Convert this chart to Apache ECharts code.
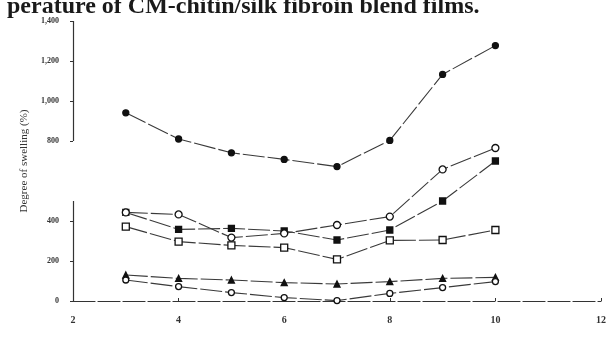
<!DOCTYPE html>
<html>
<head>
<meta charset="utf-8">
<script src="https://cdn.jsdelivr.net/npm/echarts@6/dist/echarts.min.js"></script>
<style>html,body{margin:0;padding:0;background:#fff;}#c{width:612px;height:338px;}</style>
</head>
<body>
<div id="c"></div>
<script>
var xValues = [3, 4, 5, 6, 7, 8, 9, 10];
var filledCircle = [941, 810, 741, 708, 672, 803, 1133, 1277];
var openCircle = [443, 433, 317, 338, 380, 422, 658, 765];
var filledSquare = [443, 358, 363, 350, 305, 355, 500, 700];
var openSquare = [372, 297, 278, 267, 208, 303, 305, 355];
var filledTriangle = [130, 113, 105, 92, 85, 97, 113, 118];
var lowCircle = [105, 72, 42, 17, 2, 38, 67, 97];
var yTicks = [0, 200, 400, 800, 1000, 1200, 1400];
var xTicks = [2, 4, 6, 8, 10, 12];
var yAxisSegments = [[0, 500], [800, 1400]];
var titleText = 'perature of CM-chitin/silk fibroin blend films.';
var yName = 'Degree of swelling (%)';

function pairs(vals) { return xValues.map(function (x, i) { return [x, vals[i]]; }); }

var lineStyle = { color: '#3a3a3a', width: 1.1, type: [22, 3] };
function mk(name, data, symbol, filled, size) {
  return {
    name: name, type: 'line', data: pairs(data), symbol: symbol, symbolSize: size || 6,
    lineStyle: lineStyle,
    itemStyle: { color: filled ? '#111' : '#fff', borderColor: '#111', borderWidth: 1.3 },
    z: filled ? 3 : 4, animation: false
  };
}

var series = [
  mk('fc', filledCircle, 'circle', true, 6),
  mk('oc', openCircle, 'circle', false, 7),
  mk('fs', filledSquare, 'rect', true, 6),
  mk('os', openSquare, 'rect', false, 7),
  mk('ft', filledTriangle, 'triangle', true, 6),
  mk('lc', lowCircle, 'circle', false, 6)
];
series.push({
  type: 'line', data: [], silent: true, animation: false,
  markLine: {
    symbol: 'none', silent: true, animation: false,
    label: { show: false },
    lineStyle: { color: '#333', width: 1.2, type: 'solid' },
    data: yAxisSegments.map(function (s) { return [{ coord: [2, s[0]] }, { coord: [2, s[1]] }]; })
  }
});

var chart = echarts.init(document.getElementById('c'));
chart.setOption({
  backgroundColor: '#fff',
  animation: false,
  title: {
    text: titleText, left: 2, top: -10,
    textStyle: { fontFamily: 'Liberation Serif', fontWeight: 'bold', fontSize: 24, color: '#1a1a1a' }
  },
  grid: { left: 73, right: 11, top: 21, bottom: 37 },
  xAxis: {
    type: 'value', min: 2, max: 12, interval: 2,
    axisLine: { show: true, onZero: false, lineStyle: { color: '#333', width: 1.2, type: [22, 3] } },
    axisTick: { show: true, length: 3, inside: true, lineStyle: { color: '#333' } },
    axisLabel: { margin: 14, fontFamily: 'Liberation Serif', fontWeight: 'bold', fontSize: 10, color: '#333', customValues: xTicks },
    splitLine: { show: false }
  },
  yAxis: {
    type: 'value', min: 0, max: 1400, interval: 200,
    name: yName, nameLocation: 'middle', nameGap: 40,
    nameTextStyle: { fontFamily: 'Liberation Serif', fontSize: 11, color: '#333' },
    axisLine: { show: false },
    axisTick: { show: true, length: 3, lineStyle: { color: '#333' }, customValues: yTicks },
    axisLabel: { margin: 14, fontFamily: 'Liberation Serif', fontSize: 8, color: '#333', fontWeight: 'bold', customValues: yTicks },
    splitLine: { show: false }
  },
  series: series
});
</script>
</body>
</html>
